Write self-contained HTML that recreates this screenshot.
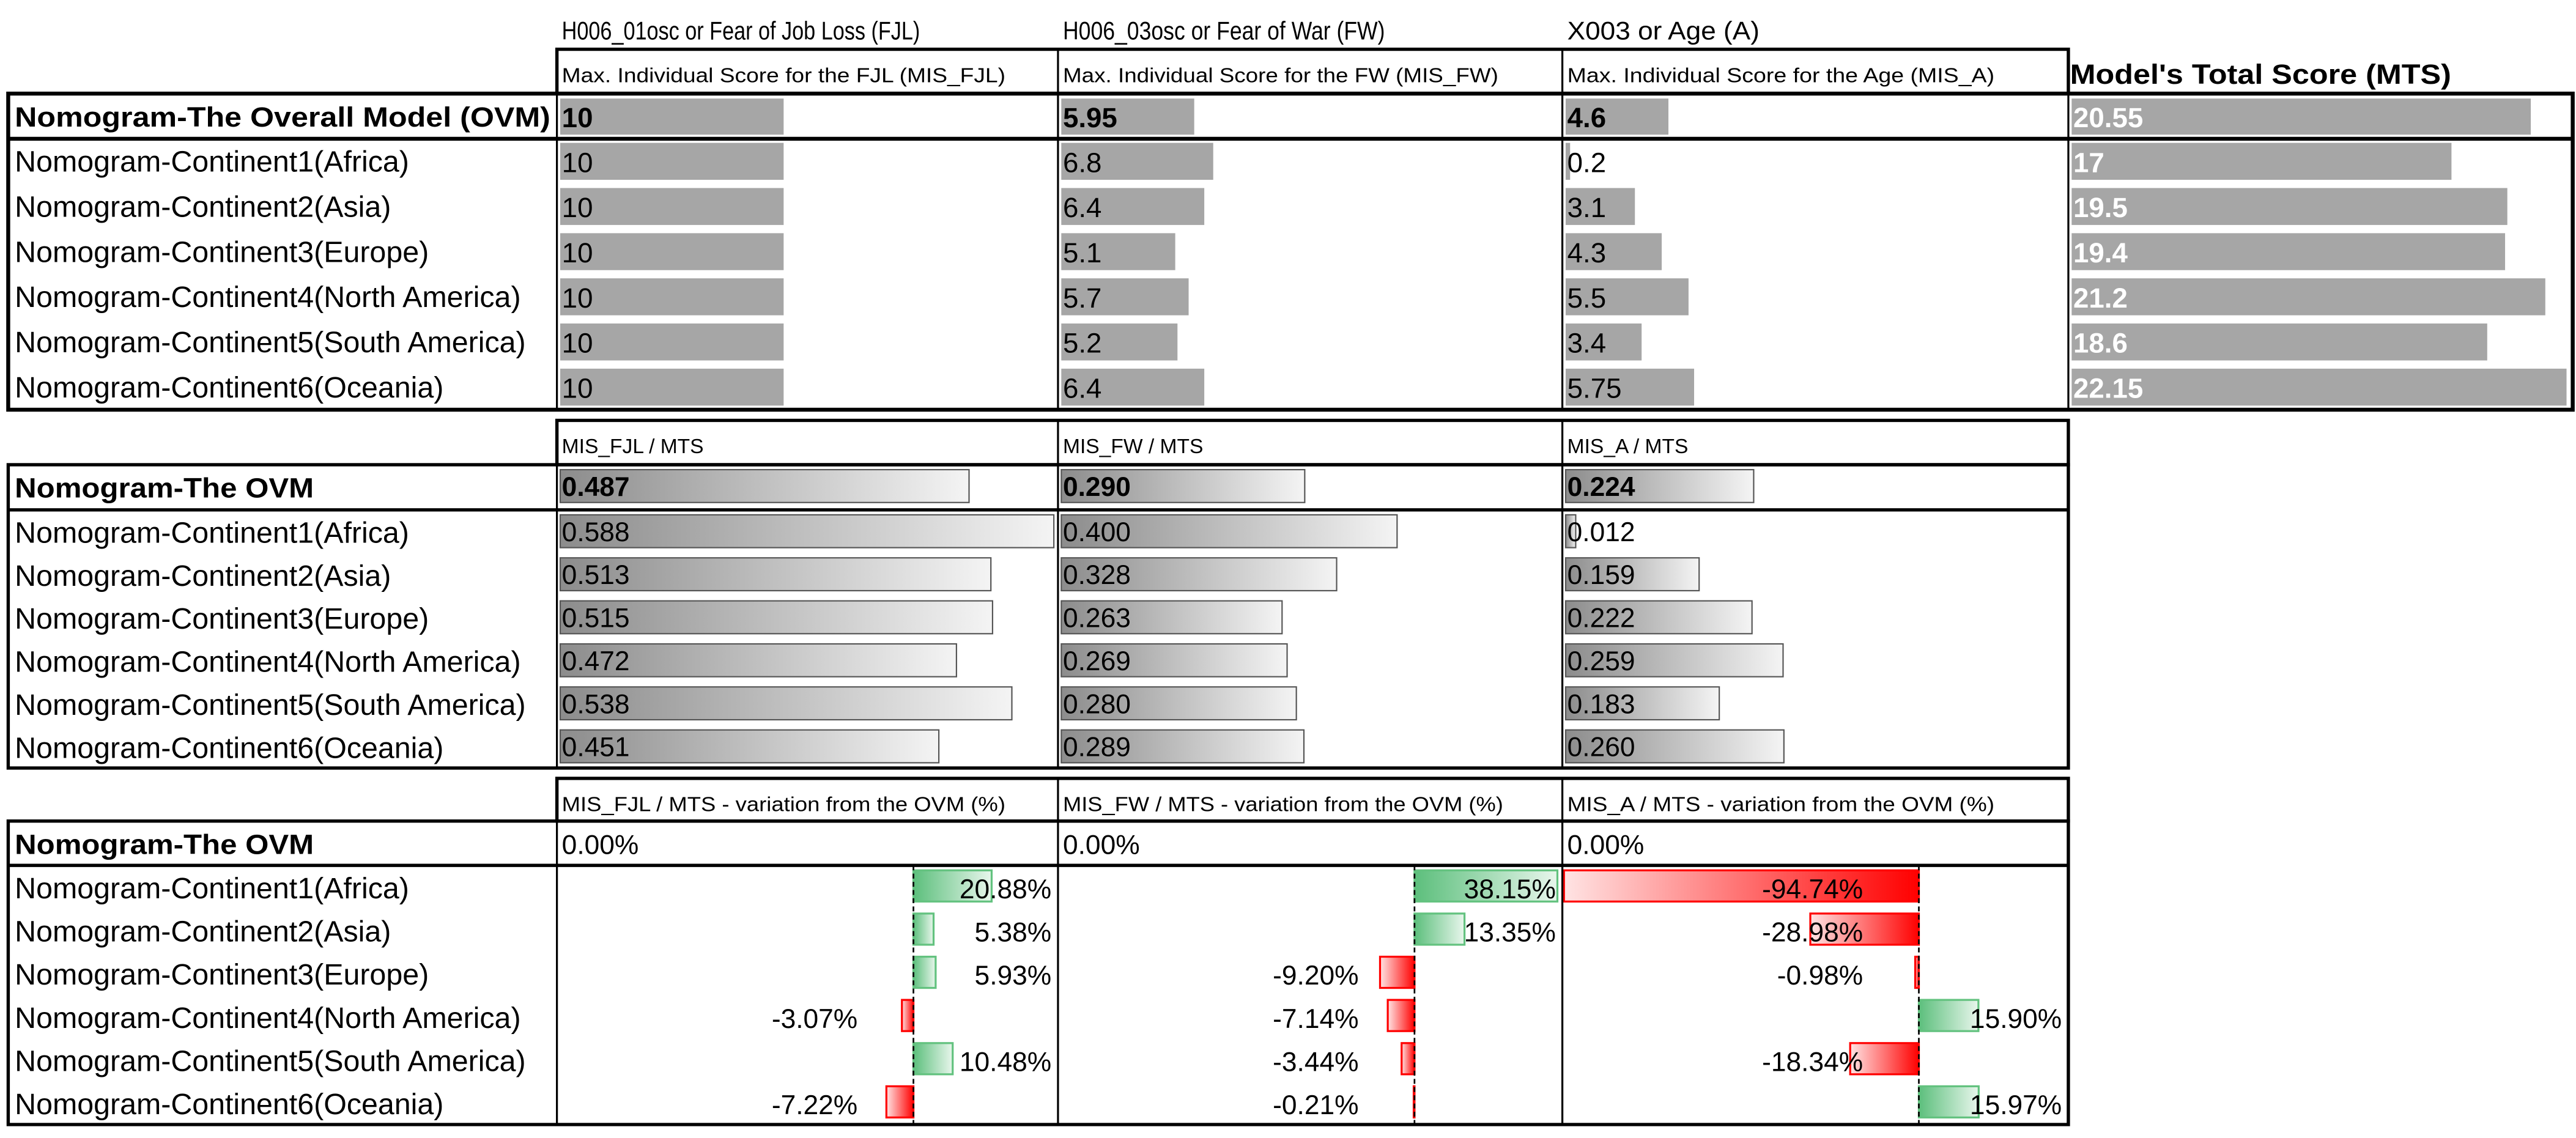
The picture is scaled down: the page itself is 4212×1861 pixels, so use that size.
<!DOCTYPE html>
<html><head><meta charset="utf-8">
<style>
html,body{margin:0;padding:0;background:#fff;}
svg{display:block;font-family:"Liberation Sans",Arial,sans-serif;}
</style></head>
<body>
<svg id="chart" width="4212" height="1861" viewBox="0 0 1568 693" preserveAspectRatio="none" xmlns="http://www.w3.org/2000/svg">
<defs>
<linearGradient id="gGray" x1="0" x2="1" y1="0" y2="0"><stop offset="0" stop-color="#8c8c8c"/><stop offset="1" stop-color="#f4f4f4"/></linearGradient>
<linearGradient id="gGreen" x1="0" x2="1" y1="0" y2="0"><stop offset="0" stop-color="#5cbf7c"/><stop offset="1" stop-color="#e8f6ec"/></linearGradient>
<linearGradient id="gRed" x1="0" x2="1" y1="0" y2="0"><stop offset="0" stop-color="#ffe4e4"/><stop offset="1" stop-color="#ff0000"/></linearGradient>
</defs>
<g id="layer"></g>
</svg>
<script>
const rowLabels = ["Nomogram-Continent1(Africa)","Nomogram-Continent2(Asia)","Nomogram-Continent3(Europe)","Nomogram-Continent4(North America)","Nomogram-Continent5(South America)","Nomogram-Continent6(Oceania)"];
const misFJL = [10,10,10,10,10,10];
const misFW = [6.8,6.4,5.1,5.7,5.2,6.4];
const misA = [0.2,3.1,4.3,5.5,3.4,5.75];
const mts = [17,19.5,19.4,21.2,18.6,22.15];
const ovmMis = [10,5.95,4.6];
const ovmMts = 20.55;
const misLabels = [["10","10","10","10","10","10"],["6.8","6.4","5.1","5.7","5.2","6.4"],["0.2","3.1","4.3","5.5","3.4","5.75"]];
const ovmMisLabels = ["10","5.95","4.6"];
const mtsLabels = ["17","19.5","19.4","21.2","18.6","22.15"];
const ratioFJL = [0.588,0.513,0.515,0.472,0.538,0.451];
const ratioFW = [0.400,0.328,0.263,0.269,0.280,0.289];
const ratioA = [0.012,0.159,0.222,0.259,0.183,0.260];
const ovmRatio = [0.487,0.290,0.224];
const varFJL = [20.88,5.38,5.93,-3.07,10.48,-7.22];
const varFW = [38.15,13.35,-9.20,-7.14,-3.44,-0.21];
const varA = [-94.74,-28.98,-0.98,15.90,-18.34,15.97];
const topHeaders = ["H006_01osc or Fear of Job Loss (FJL)","H006_03osc or Fear of War (FW)","X003 or Age (A)"];
const topHeaderLen = [218,196,117];
const subHeaders1 = ["Max. Individual Score for the  FJL (MIS_FJL)","Max. Individual Score for the FW (MIS_FW)","Max. Individual Score for the Age (MIS_A)"];
const subHeader1Len = [270,265,260];
const subHeaders2 = ["MIS_FJL / MTS","MIS_FW / MTS","MIS_A / MTS"];
const subHeaders3 = ["MIS_FJL / MTS - variation from the OVM (%)","MIS_FW / MTS - variation from the OVM (%)","MIS_A / MTS - variation from the OVM (%)"];

const NS="http://www.w3.org/2000/svg";
const L=document.getElementById('layer');
function mk(tag,attrs,parent){const e=document.createElementNS(NS,tag);for(const k in attrs)e.setAttribute(k,attrs[k]);(parent||L).appendChild(e);return e;}
function txt(x,y,s,size,opts){opts=opts||{};const a={x:x,y:y,'font-size':size,fill:opts.fill||'#000','font-weight':opts.bold?'bold':'normal','text-anchor':opts.anchor||'start'};if(opts.len){a.textLength=opts.len;a.lengthAdjust='spacingAndGlyphs';}const t=mk('text',a);t.textContent=s;return t;}
function line(x1,y1,x2,y2,w,dash){return mk('line',{x1:x1,y1:y1,x2:x2,y2:y2,stroke:'#000','stroke-width':w,'stroke-dasharray':dash||'none'});}
function rect(x,y,w,h,sw){return mk('rect',{x:x,y:y,width:w,height:h,fill:'none',stroke:'#000','stroke-width':sw});}

const colX=[339,644,951,1259,1566];
const leftX=5;
const misScale=v=>v*13.6;
const ratioScale=v=>v*511;
const varScale=v=>v*2.28;
const zeroX=[556,861,1168];

/* ---------- Table 1 ---------- */
topHeaders.forEach((h,i)=>{const t=txt(colX[i]+3,24,h,15.5,{len:topHeaderLen[i]});});
subHeaders1.forEach((h,i)=>{const t=txt(colX[i]+3,50,h,12.5,{len:subHeader1Len[i]});});
{const t=txt(colX[3]+1,51,"Model's Total Score (MTS)",17,{bold:true,len:232});}
const t1Top=57, t1Ovm=84.5, t1Row=27.5;
function drawMisBar(col,y,h,v,label,bold,name){
  const b=mk('rect',{x:colX[col]+2,y:y,width:misScale(v),height:h,fill:'#a6a6a6'});
  
  
  const fill=col===3?'#fff':'#000';
  const t=txt(colX[col]+3,y+h/2+6.5,label,17,{bold:bold||col===3,fill:fill});
  
  
}
{const t=txt(9,t1Top+20,"Nomogram-The Overall Model (OVM)",17,{bold:true,len:326});}
ovmMis.forEach((v,i)=>drawMisBar(i,t1Top+3,22,v,ovmMisLabels[i],true,'ovm-mis-bar-'+(i+1)));
drawMisBar(3,t1Top+3,22,ovmMts,"20.55",true,'ovm-mts-bar');
const misSeries=[misFJL,misFW,misA];
rowLabels.forEach((lab,r)=>{
  const y=t1Ovm+r*t1Row;
  const t=txt(9,y+20,lab,18);
  misSeries.forEach((s,c)=>drawMisBar(c,y+2.5,22.5,s[r],misLabels[c][r],false,'mis-bar-c'+(c+1)+'-r'+(r+1)));
  drawMisBar(3,y+2.5,22.5,mts[r],mtsLabels[r],true,'mts-bar-r'+(r+1));
});
const t1Bot=t1Ovm+6*t1Row;
rect(colX[0],30,colX[3]-colX[0],t1Top-30,2);
rect(leftX,t1Top,colX[4]-leftX,t1Bot-t1Top,2.4);
line(leftX,t1Ovm,colX[4],t1Ovm,2.4);
for(let i=0;i<4;i++)line(colX[i],i===3?t1Top:30,colX[i],t1Bot,1.2);

/* ---------- Table 2 ---------- */
const t2Hd=256,t2Ovm=283,t2Rows=310.5,t2Row=26.2;
subHeaders2.forEach((h,i)=>{const t=txt(colX[i]+3,276,h,12.5);});
{const t=txt(9,t2Ovm+20,"Nomogram-The OVM",17,{bold:true,len:182});}
function drawRatio(col,y,h,v,bold,name){
  const b=mk('rect',{x:colX[col]+2,y:y,width:ratioScale(v),height:h,fill:'url(#gGray)',stroke:'#555','stroke-width':0.8});
  
  
  const t=txt(colX[col]+3,y+h/2+6,v.toFixed(3),16.5,{bold:bold});
  
  
}
ovmRatio.forEach((v,i)=>drawRatio(i,t2Ovm+3,20,v,true,'ovm-ratio-bar-'+(i+1)));
const ratioSeries=[ratioFJL,ratioFW,ratioA];
rowLabels.forEach((lab,r)=>{
  const y=t2Rows+r*t2Row;
  const t=txt(9,y+20,lab,18);
  ratioSeries.forEach((s,c)=>drawRatio(c,y+3,20,s[r],false,'ratio-bar-c'+(c+1)+'-r'+(r+1)));
});
const t2Bot=t2Rows+6*t2Row;
rect(colX[0],t2Hd,colX[3]-colX[0],t2Ovm-t2Hd,2);
rect(leftX,t2Ovm,colX[3]-leftX,t2Bot-t2Ovm,2);
line(leftX,t2Rows,colX[3],t2Rows,2);
for(let i=0;i<3;i++)line(colX[i],t2Hd,colX[i],t2Bot,1.2);

/* ---------- Table 3 ---------- */
const t3Hd=474,t3Ovm=500,t3Rows=527,t3Row=26.3;
subHeaders3.forEach((h,i)=>{const t=txt(colX[i]+3,494,h,12.5,{len:[270,268,260][i]});});
{const t=txt(9,t3Ovm+20,"Nomogram-The OVM",17,{bold:true,len:182});}
for(let c=0;c<3;c++){const t=txt(colX[c]+3,t3Ovm+20,"0.00%",16.5);}
const varSeries=[varFJL,varFW,varA];
const t3Bot=t3Rows+6*t3Row;
rowLabels.forEach((lab,r)=>{
  const y=t3Rows+r*t3Row;
  const t=txt(9,y+20,lab,18);
  varSeries.forEach((s,c)=>{
    const v=s[r], z=zeroX[c], w=varScale(Math.abs(v));
    const pos=v>=0;
    const b=mk('rect',{x:pos?z:z-w,y:y+3,width:w,height:19,fill:pos?'url(#gGreen)':'url(#gRed)',stroke:pos?'#63c27f':'#ff0000','stroke-width':1.2});
    
    
    const lx=pos?colX[c+1]-4:z-34;
    const lt=txt(lx,y+20,v.toFixed(2)+'%',16.5,{anchor:'end'});
    
    
  });
});
zeroX.forEach((z,i)=>{const d=line(z,t3Rows,z,t3Bot,1,'3,2');});
rect(colX[0],t3Hd,colX[3]-colX[0],t3Ovm-t3Hd,2);
rect(leftX,t3Ovm,colX[3]-leftX,t3Bot-t3Ovm,2);
line(leftX,t3Rows,colX[3],t3Rows,2);
for(let i=0;i<3;i++)line(colX[i],t3Hd,colX[i],t3Bot,1.2);
</script>
</body></html>
